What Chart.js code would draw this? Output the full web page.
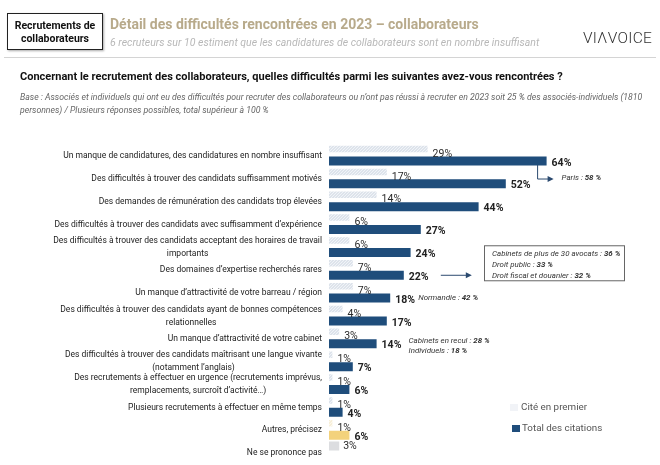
<!DOCTYPE html>
<html lang="fr">
<head>
<meta charset="utf-8">
<script src="https://cdn.jsdelivr.net/npm/chart.js@4.4.0/dist/chart.umd.min.js"></script>
<style>
  body { margin: 0; background: #fff; font-family: Roboto, "Liberation Sans", sans-serif; }
  #page { position: relative; width: 660px; height: 465px; overflow: hidden; }
  #chart { position: absolute; left: 0; top: 0; }
  .tag { position: absolute; left: 7px; top: 13px; width: 94px; height: 35px; border: 1.5px solid #222;
         box-shadow: 1px 1px 2px #aaa; font-weight: bold; font-size: 10.5px; line-height: 13px;
         text-align: center; display: flex; align-items: center; justify-content: center; color: #111; }
  .title { position: absolute; left: 110px; top: 16px; font-size: 14px; font-weight: bold; color: #b8aa8b; white-space: nowrap; }
  .sub { position: absolute; left: 110px; top: 36px; font-size: 10.5px; font-style: italic; color: #b8b8b8; white-space: nowrap; }
  .logo { position: absolute; left: 583px; top: 29px; font-size: 15.5px; letter-spacing: 0.3px; color: #333; font-weight: 300; }
  .rule { position: absolute; left: 4px; right: 4px; top: 57px; border-top: 1px solid #d4d4d4; }
  .q { position: absolute; left: 20px; top: 70px; font-size: 11px; font-weight: bold; color: #111; white-space: nowrap; }
  .base { position: absolute; left: 20px; top: 91px; width: 635px; font-size: 8.7px; line-height: 12.5px; font-style: italic; color: #666; white-space: nowrap; }
</style>
</head>
<body>
<div id="page">
  <canvas id="chart" width="660" height="465"></canvas>
  <div class="tag">Recrutements de<br>collaborateurs</div>
  <div class="title">Détail des difficultés rencontrées en 2023 – collaborateurs</div>
  <div class="sub">6 recruteurs sur 10 estiment que les candidatures de collaborateurs sont en nombre insuffisant</div>
  <div class="logo">VIΛVOICE</div>
  <div class="rule"></div>
  <div class="q">Concernant le recrutement des collaborateurs, quelles difficultés parmi les suivantes avez-vous rencontrées ?</div>
  <div class="base">Base : Associés et individuels qui ont eu des difficultés pour recruter des collaborateurs ou n’ont pas réussi à recruter en 2023 soit 25 % des associés-individuels (1810<br>personnes) / Plusieurs réponses possibles, total supérieur à 100 %</div>
</div>
<script>
const categories = [
  'Un manque de candidatures, des candidatures en nombre insuffisant',
  'Des difficultés à trouver des candidats suffisamment motivés',
  'Des demandes de rémunération des candidats trop élevées',
  'Des difficultés à trouver des candidats avec suffisamment d’expérience',
  ['Des difficultés à trouver des candidats acceptant des horaires de travail', 'importants'],
  'Des domaines d’expertise recherchés rares',
  'Un manque d’attractivité de votre barreau / région',
  ['Des difficultés à trouver des candidats ayant de bonnes compétences', 'relationnelles'],
  'Un manque d’attractivité de votre cabinet',
  ['Des difficultés à trouver des candidats maîtrisant une langue vivante', '(notamment l’anglais)'],
  ['Des recrutements à effectuer en urgence (recrutements imprévus,', 'remplacements, surcroît d’activité…)'],
  'Plusieurs recrutements à effectuer en même temps',
  'Autres, précisez',
  'Ne se prononce pas'
];
const firstCited = [29, 17, 14, 6, 6, 7, 7, 4, 3, 1, 1, 1, 1, null];
const totalCited = [64, 52, 44, 27, 24, 22, 18, 17, 14, 7, 6, 4, 6, null];
const noAnswer   = [null, null, null, null, null, null, null, null, null, null, null, null, null, 3];

const NAVY = '#1f4d7b';
const YELLOW = '#f3d27c';

function hatch(base, dot) {
  const c = document.createElement('canvas');
  c.width = 3; c.height = 3;
  const g = c.getContext('2d');
  g.fillStyle = base; g.fillRect(0, 0, 3, 3);
  g.fillStyle = dot; g.fillRect(0, 0, 1, 1); g.fillRect(2, 1, 1, 1); g.fillRect(1, 2, 1, 1);
  return g.createPattern(c, 'repeat');
}
const lightBlue = hatch('#dde3eb', '#f1f4f8');
const lightYellow = hatch('#f7efd9', '#fcf8ee');

function rich(ctx, parts, x, y) {
  parts.forEach(p => {
    ctx.font = (p.b ? 'italic bold ' : 'italic ') + '7.9px Roboto';
    ctx.fillText(p.t, x, y);
    x += ctx.measureText(p.t).width;
  });
}

function arrowHead(ctx, x, y) {
  ctx.beginPath();
  ctx.moveTo(x, y); ctx.lineTo(x - 6, y - 3); ctx.lineTo(x - 6, y + 3); ctx.closePath(); ctx.fill();
}

const decorations = {
  id: 'decorations',
  afterDatasetsDraw(chart) {
    const { ctx } = chart;
    const yScale = chart.scales.y;
    ctx.save();
    ctx.textBaseline = 'middle';

    // category labels (multi-line ones centred)
    ctx.fillStyle = '#222';
    ctx.font = '8.5px Roboto';
    categories.forEach((lab, i) => {
      const lines = Array.isArray(lab) ? lab : [lab];
      const cy = yScale.getPixelForTick(i);
      const right = 322;
      const w = Math.max(...lines.map(l => ctx.measureText(l).width));
      lines.forEach((l, j) => {
        const ly = cy + (j - (lines.length - 1) / 2) * 13 + 1;
        if (lines.length > 1) { ctx.textAlign = 'center'; ctx.fillText(l, right - w / 2, ly); }
        else { ctx.textAlign = 'right'; ctx.fillText(l, right, ly); }
      });
    });

    // value labels
    ctx.textAlign = 'left';
    ctx.fillStyle = '#2a2a2a';
    ctx.font = '10.5px Roboto';
    chart.getDatasetMeta(0).data.forEach((bar, i) => {
      if (firstCited[i] == null) return;
      ctx.fillText(firstCited[i] + '%', bar.x + 5, bar.y + 5);
    });
    chart.getDatasetMeta(2).data.forEach((bar, i) => {
      if (noAnswer[i] == null) return;
      ctx.fillText(noAnswer[i] + '%', bar.x + 4, bar.y);
    });
    ctx.fillStyle = '#222';
    ctx.font = 'bold 10.5px Roboto';
    chart.getDatasetMeta(1).data.forEach((bar, i) => {
      if (totalCited[i] == null) return;
      ctx.fillText(totalCited[i] + '%', bar.x + 5, bar.y + 2);
    });

    // annotations
    const tot = chart.getDatasetMeta(1).data;
    ctx.strokeStyle = '#2b4a6f';
    ctx.fillStyle = '#2b4a6f';
    ctx.lineWidth = 1;
    let b = tot[0];
    ctx.beginPath();
    ctx.moveTo(b.x - 9, b.y + 4); ctx.lineTo(b.x - 9, b.y + 18); ctx.lineTo(b.x + 5, b.y + 18);
    ctx.stroke();
    arrowHead(ctx, b.x + 7, b.y + 18);
    ctx.fillStyle = '#333';
    rich(ctx, [{ t: 'Paris : ' }, { t: '58 %', b: true }], b.x + 15, b.y + 17);

    b = tot[5];
    ctx.fillStyle = '#2b4a6f';
    ctx.beginPath();
    ctx.moveTo(b.x + 37, b.y); ctx.lineTo(b.x + 64, b.y); ctx.stroke();
    arrowHead(ctx, b.x + 68, b.y);
    ctx.strokeStyle = '#666';
    ctx.strokeRect(484.5, b.y - 29.5, 140, 35);
    ctx.fillStyle = '#333';
    rich(ctx, [{ t: 'Cabinets de plus de 30 avocats : ' }, { t: '36 %', b: true }], 492, b.y - 21);
    rich(ctx, [{ t: 'Droit public : ' }, { t: '33 %', b: true }], 492, b.y - 10);
    rich(ctx, [{ t: 'Droit fiscal et douanier : ' }, { t: '32 %', b: true }], 492, b.y + 1);

    b = tot[6];
    rich(ctx, [{ t: 'Normandie : ' }, { t: '42 %', b: true }], b.x + 28, b.y);

    b = tot[8];
    rich(ctx, [{ t: 'Cabinets en recul : ' }, { t: '28 %', b: true }], b.x + 32, b.y - 3);
    rich(ctx, [{ t: 'Individuels : ' }, { t: '18 %', b: true }], b.x + 32, b.y + 7);

    // legend
    ctx.fillStyle = '#f1f3f7';
    ctx.fillRect(510, 404, 8, 7);
    ctx.fillStyle = NAVY;
    ctx.fillRect(512, 425, 8, 7);
    ctx.fillStyle = '#555';
    ctx.font = '9.8px Roboto';
    ctx.fillText('Cité en premier', 521, 408);
    ctx.fillText('Total des citations', 522, 429);
    ctx.restore();
  }
};

new Chart(document.getElementById('chart'), {
  type: 'bar',
  data: {
    labels: categories,
    datasets: [
      {
        label: 'Cité en premier',
        data: firstCited,
        stack: 'a',
        backgroundColor: firstCited.map((v, i) => i === 12 ? lightYellow : lightBlue),
        maxBarThickness: 6.5,
        categoryPercentage: 1.05,
        barPercentage: 0.75
      },
      {
        label: 'Total des citations',
        data: totalCited,
        stack: 'b',
        backgroundColor: totalCited.map((v, i) => i === 12 ? YELLOW : NAVY),
        categoryPercentage: 1.05,
        barPercentage: 0.75
      },
      {
        label: 'Ne se prononce pas',
        data: noAnswer,
        stack: 'a',
        backgroundColor: '#dcdde0',
        categoryPercentage: 1.05,
        barPercentage: 0.75
      }
    ]
  },
  options: {
    indexAxis: 'y',
    responsive: false,
    animation: false,
    layout: { padding: { top: 143.6, bottom: 1.5, left: 0, right: 8 } },
    plugins: { legend: { display: false }, tooltip: { enabled: false } },
    scales: {
      x: { min: 0, max: 95, display: false },
      y: {
        grid: { display: false },
        border: { display: false },
        ticks: { display: false },
        afterFit(scale) { scale.width = 329; }
      }
    }
  },
  plugins: [decorations]
});
</script>
</body>
</html>
